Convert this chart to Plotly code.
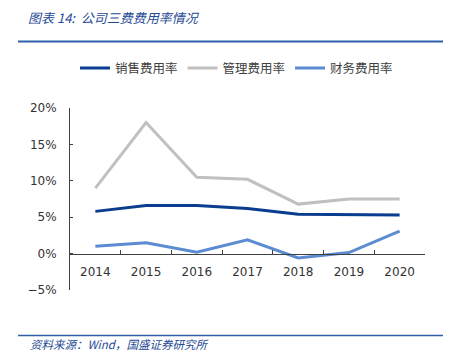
import plotly.graph_objects as go

years = ["2014", "2015", "2016", "2017", "2018", "2019", "2020"]
sales_rate = [5.8, 6.6, 6.6, 6.2, 5.4, 5.4, 5.3]
admin_rate = [9.0, 18.0, 10.5, 10.2, 6.8, 7.5, 7.5]
fin_rate = [1.0, 1.5, 0.2, 1.9, -0.6, 0.15, 3.1]
series_names = ["销售费用率", "管理费用率", "财务费用率"]
colors = ["#0A3D8F", "#C0C0C0", "#5B8BD0"]

# plot area in pixels: x 70..425, y 107.7..290
L, R, T, B = 70, 425, 107.7, 290
W, H = 453, 353
def px(x):
    return (x - L) / (R - L)
def py(y):
    return (B - y) / (B - T)

fig = go.Figure()
for name, vals, c in zip(series_names, [sales_rate, admin_rate, fin_rate], colors):
    fig.add_trace(go.Scatter(x=years, y=vals, name=name, mode="lines",
                             line=dict(color=c, width=3)))

axis_font = dict(family="DejaVu Sans", size=12, color="#333333")
fig.update_layout(
    width=W, height=H,
    margin=dict(l=L, r=W - R, t=T, b=H - B),
    plot_bgcolor="white", paper_bgcolor="white",
    showlegend=True,
    legend=dict(orientation="h", x=px(75), y=py(68), xanchor="left", yanchor="middle",
                font=dict(family="Noto Sans CJK SC", size=12.5, color="#404040"),
                itemwidth=30, tracegroupgap=0),
    xaxis=dict(type="category", range=[-0.5, 6.5], anchor="free", position=0.2,
               showline=True, linecolor="#404040", linewidth=1,
               ticks="inside", tickson="boundaries", ticklen=4, tickcolor="#404040",
               showgrid=False, zeroline=False, tickfont=axis_font, ticklabelstandoff=7),
    yaxis=dict(range=[-5, 20], dtick=5, ticksuffix="%", showline=True,
               linecolor="#404040", linewidth=1, ticks="inside", ticklen=3,
               tickcolor="#404040", showgrid=False, zeroline=False, tickfont=axis_font,
               ticklabelstandoff=10),
    shapes=[
        dict(type="line", xref="paper", yref="paper", x0=px(18), x1=px(443),
             y0=py(41), y1=py(41), line=dict(color="#2F5FA8", width=2)),
        dict(type="line", xref="paper", yref="paper", x0=px(18), x1=px(443),
             y0=py(335.5), y1=py(335.5), line=dict(color="#2F5FA8", width=1.5)),
    ],
    annotations=[
        dict(text="<i>图表 14:  公司三费费用率情况</i>", xref="paper", yref="paper",
             x=px(26), y=py(17), xanchor="left", yanchor="middle", showarrow=False,
             font=dict(family="Noto Sans CJK SC", size=13, color="#1F4A96")),
        dict(text="<i>资料来源：Wind，国盛证券研究所</i>", xref="paper", yref="paper",
             x=px(28), y=py(344), xanchor="left", yanchor="middle", showarrow=False,
             font=dict(family="Noto Sans CJK SC", size=11.5, color="#1F4A96")),
    ],
)
fig.write_html("out.html")
